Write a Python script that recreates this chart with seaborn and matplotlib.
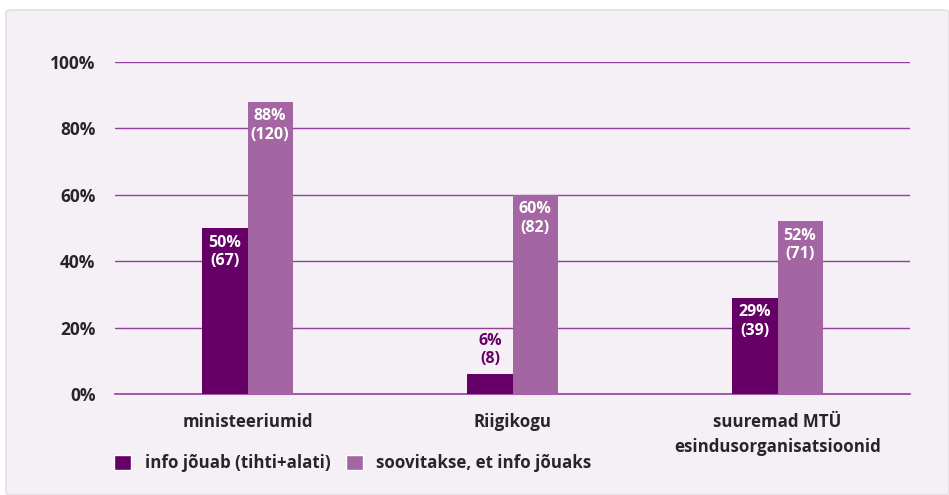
import matplotlib.pyplot as plt
import pandas as pd
import seaborn as sns
from matplotlib.patches import FancyBboxPatch, Patch

categories = ["ministeeriumid", "Riigikogu", "suuremad MTÜ\nesindusorganisatsioonid"]
series = ["info jõuab (tihti+alati)", "soovitakse, et info jõuaks"]
pct_reaches = [50, 6, 29]
pct_wanted = [88, 60, 52]
n_reaches = [67, 8, 39]
n_wanted = [120, 82, 71]
y_ticks = [0, 20, 40, 60, 80, 100]

DARK = "#660066"
LIGHT = "#A366A3"
GRID = "#93409A"
BG = "#F5F0F6"

df = pd.DataFrame({
    "category": categories * 2,
    "series": [series[0]] * 3 + [series[1]] * 3,
    "pct": pct_reaches + pct_wanted,
    "n": n_reaches + n_wanted,
})

sns.set_style("white")
plt.rcParams["font.family"] = ["Open Sans", "DejaVu Sans"]
plt.rcParams["font.weight"] = "bold"

fig = plt.figure(figsize=(9.49, 4.95), dpi=100, facecolor="white")
card = FancyBboxPatch((6 / 949, 0), 1 - 6 / 949, 1 - 10 / 495,
                      boxstyle="round,pad=0,rounding_size=0.006",
                      transform=fig.transFigure, facecolor=BG,
                      edgecolor="#E2DEE3", linewidth=1.2, zorder=-10)
fig.patches.append(card)

ax = fig.add_axes([115 / 949, 1 - 394 / 495, 795 / 949, 332 / 495])
ax.set_facecolor(BG)
sns.barplot(data=df, x="category", y="pct", hue="series", order=categories,
            hue_order=series, palette=[DARK, LIGHT], width=0.34, gap=0,
            saturation=1, legend=False, linewidth=0, ax=ax, zorder=3)

ax.set_ylim(0, 100)
ax.set_xlim(-0.5, 2.5)
ax.set_yticks(y_ticks)
ax.set_yticklabels([f"{v}%" for v in y_ticks], fontsize=12.5, fontweight="bold")
ax.yaxis.grid(True, color=GRID, linewidth=1)
ax.set_axisbelow(True)
ax.set_xlabel("")
ax.set_ylabel("")
ax.tick_params(axis="y", length=0, pad=14)
ax.tick_params(axis="x", which="major", length=0, pad=14, labelsize=12.2)
for lbl in ax.get_xticklabels():
    lbl.set_fontweight("bold")
    lbl.set_linespacing(1.45)
ax.set_xticks([-0.5, 0.5, 1.5, 2.5], minor=True)
ax.tick_params(axis="x", which="minor", length=12, direction="inout",
               color=GRID, width=1)
for side in ["top", "right", "left"]:
    ax.spines[side].set_visible(False)
ax.spines["bottom"].set_color(GRID)
ax.spines["bottom"].set_linewidth(1.2)

counts = [n_reaches, n_wanted]
for container, ns in zip(ax.containers, counts):
    for bar, n in zip(container, ns):
        h = bar.get_height()
        cx = bar.get_x() + bar.get_width() / 2
        text = f"{h:.0f}%\n({n})"
        if h < 15:
            ax.text(cx, h + 2, text, ha="center", va="bottom", color=DARK,
                    fontsize=11.5, fontweight="bold", linespacing=1.2, zorder=4)
        else:
            ax.text(cx, h - 2, text, ha="center", va="top", color="white",
                    fontsize=11.5, fontweight="bold", linespacing=1.2, zorder=4)

handles = [Patch(facecolor=DARK), Patch(facecolor=LIGHT)]
fig.legend(handles, series, loc="center left",
           bbox_to_anchor=(99 / 949, 1 - 463 / 495), ncol=2, frameon=False,
           handlelength=1.0, handleheight=1.0, handletextpad=0.8,
           columnspacing=0.9, prop={"size": 12.2, "weight": "bold"})

plt.savefig("out.png", dpi=100, facecolor="white")
